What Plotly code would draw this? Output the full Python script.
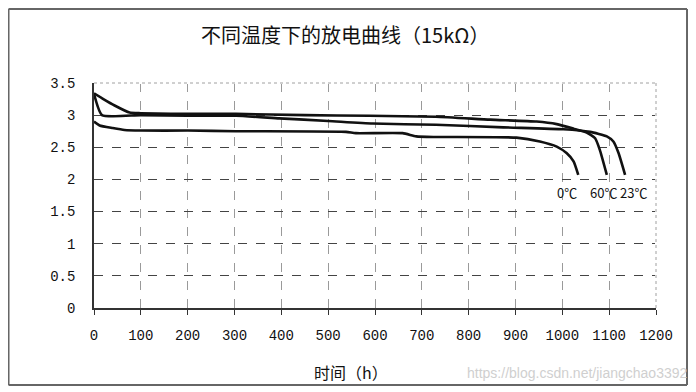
import plotly.graph_objects as go

# ---- data ----
x_60 = [0, 20, 44, 76, 100, 164, 303, 450, 588, 730, 846, 945, 988, 1024, 1052, 1070, 1080, 1095]
y_60 = [3.34, 3.25, 3.15, 3.04, 3.03, 3.02, 3.02, 3.0, 2.99, 2.975, 2.93, 2.90, 2.86, 2.79, 2.73, 2.64, 2.46, 2.07]

x_23 = [0, 17, 100, 200, 303, 396, 500, 595, 730, 874, 1002, 1059, 1095, 1109, 1120, 1134]
y_23 = [3.33, 3.0, 3.0, 2.99, 2.99, 2.95, 2.91, 2.87, 2.85, 2.81, 2.78, 2.74, 2.67, 2.59, 2.41, 2.07]

x_0 = [0, 12, 40, 65, 100, 200, 303, 538, 559, 659, 688, 730, 902, 952, 988, 1009, 1024, 1034]
y_0 = [2.90, 2.84, 2.80, 2.77, 2.76, 2.76, 2.75, 2.74, 2.72, 2.72, 2.67, 2.66, 2.65, 2.59, 2.51, 2.41, 2.28, 2.07]

x_ticks = [0, 100, 200, 300, 400, 500, 600, 700, 800, 900, 1000, 1100, 1200]
y_ticks = [0, 0.5, 1, 1.5, 2, 2.5, 3, 3.5]
y_tick_text = ["0", "0.5", "1", "1.5", "2", "2.5", "3", "3.5"]

series_labels = ["0℃", "60℃", "23℃"]
label_x = [1010, 1087, 1151]
label_y = [1.79, 1.79, 1.79]

title_text = "不同温度下的放电曲线（15kΩ）"
x_title = "时间（h）"
watermark = "https://blog.csdn.net/jiangchao3392"

# ---- figure ----
fig = go.Figure()
for xs, ys, name in [(x_0, y_0, "0℃"), (x_60, y_60, "60℃"), (x_23, y_23, "23℃")]:
    fig.add_trace(go.Scatter(x=xs, y=ys, mode="lines", name=name,
                             line=dict(color="#111111", width=2.6, shape="spline", smoothing=0.5),
                             showlegend=False, hoverinfo="skip"))

tick_font = dict(family="Liberation Mono, DejaVu Sans Mono, monospace", size=14, color="#111111")
cjk = "Noto Sans CJK SC, Noto Sans CJK JP, sans-serif"

fig.update_layout(
    width=696, height=392,
    margin=dict(l=86, r=48, t=75, b=92, autoexpand=False),
    paper_bgcolor="white", plot_bgcolor="white",
    showlegend=False,
    xaxis=dict(range=[0, 1200], tickvals=x_ticks, ticktext=[str(v) for v in x_ticks],
               showgrid=True, gridcolor="#9a9a9a", griddash="dash", gridwidth=1,
               showline=True, linecolor="#333333", linewidth=1.5,
               ticks="outside", ticklen=5, tickcolor="#333333", tickwidth=1,
               ticklabelstandoff=8, tickfont=tick_font, zeroline=False, fixedrange=True),
    yaxis=dict(range=[0, 3.5], tickvals=y_ticks, ticktext=y_tick_text,
               showgrid=True, gridcolor="#444444", griddash="dash", gridwidth=1,
               showline=True, linecolor="#333333", linewidth=1.5,
               ticks="", ticklabelstandoff=14, tickfont=tick_font, zeroline=False, fixedrange=True),
)

# top / right plot-area edges: light dotted
fig.add_shape(type="line", xref="paper", yref="paper", x0=0.004, x1=1, y0=1, y1=1,
              line=dict(color="white", width=2), layer="above")
fig.add_shape(type="line", xref="paper", yref="paper", x0=0, x1=1, y0=1, y1=1,
              line=dict(color="#a0a0a0", width=1, dash="dot"), layer="above")
fig.add_shape(type="line", xref="paper", yref="paper", x0=1, x1=1, y0=0, y1=1,
              line=dict(color="white", width=2), layer="above")
fig.add_shape(type="line", xref="paper", yref="paper", x0=1, x1=1, y0=0, y1=1,
              line=dict(color="#a0a0a0", width=1, dash="dot"), layer="above")

# outer frame (four edges)
fx0, fx1, fy0, fy1 = -0.1521, 1.0552, -0.3422, 1.3289
frame_line = dict(color="#666666", width=2)
for a, b, c, d in [(fx0, fx1, fy1, fy1), (fx0, fx1, fy0, fy0), (fx0, fx0, fy0, fy1), (fx1, fx1, fy0, fy1)]:
    fig.add_shape(type="line", xref="paper", yref="paper", x0=a, x1=b, y0=c, y1=d,
                  line=frame_line, layer="above")

# title
fig.add_annotation(text=title_text, xref="paper", yref="paper", x=0.4466, y=1.215,
                   showarrow=False, xanchor="center", yanchor="middle",
                   font=dict(family=cjk, size=20, color="#111111"))
# x axis title
fig.add_annotation(text=x_title, xref="paper", yref="paper", x=0.4573, y=-0.2844,
                   showarrow=False, xanchor="center", yanchor="middle",
                   font=dict(family=cjk, size=16, color="#111111"))
# watermark
fig.add_annotation(text=watermark, xref="paper", yref="paper", x=1.058, y=-0.289,
                   showarrow=False, xanchor="right", yanchor="middle",
                   font=dict(family="Liberation Sans, Arial, sans-serif", size=14, color="#cfcfcf"))

# series labels
for t, lx, ly in zip(series_labels, label_x, label_y):
    fig.add_annotation(text=t, x=lx, y=ly, xref="x", yref="y", showarrow=False,
                       xanchor="center", yanchor="middle",
                       font=dict(family=cjk, size=13, color="#111111"))

fig.write_html("out.html")
